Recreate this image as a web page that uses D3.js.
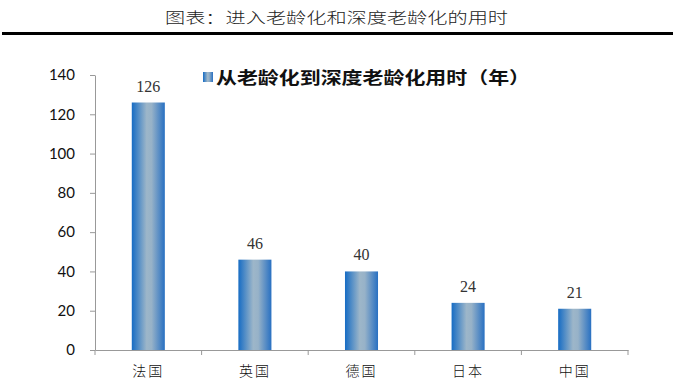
<!DOCTYPE html>
<html>
<head>
<meta charset="utf-8">
<script src="https://cdn.jsdelivr.net/npm/d3@7"></script>
<style>
  body { margin: 0; background: #fff; }
  svg { display: block; }
</style>
</head>
<body>
<script>
const countries = ['法国', '英国', '德国', '日本', '中国'];
const years = [126, 46, 40, 24, 21];
const yTicks = [0, 20, 40, 60, 80, 100, 120, 140];
const chartTitle = '图表：进入老龄化和深度老龄化的用时';
const seriesName = '从老龄化到深度老龄化用时（年）';

const width = 674;
const height = 387;
const margin = { left: 95, right: 46, top: 75, bottom: 37 };

const svg = d3.select('body')
  .append('svg')
  .attr('width', width)
  .attr('height', height);

// gradient for bars
const grad = svg.append('defs')
  .append('linearGradient')
  .attr('id', 'barGrad')
  .attr('x1', '0%').attr('x2', '100%')
  .attr('y1', '0%').attr('y2', '0%');
grad.append('stop').attr('offset', '0%').attr('stop-color', '#166cc4');
grad.append('stop').attr('offset', '45%').attr('stop-color', '#9db6c9');
grad.append('stop').attr('offset', '60%').attr('stop-color', '#97b2c8');
grad.append('stop').attr('offset', '100%').attr('stop-color', '#2870c2');

// header
svg.append('text')
  .attr('x', 165)
  .attr('y', 23)
  .attr('textLength', 343)
  .attr('lengthAdjust', 'spacingAndGlyphs')
  .style('font-family', '"Noto Sans CJK SC", sans-serif')
  .style('font-size', '15px')
  .style('font-weight', 300)
  .attr('fill', '#222')
  .text(chartTitle);

svg.append('rect')
  .attr('x', 2)
  .attr('y', 32)
  .attr('width', 671)
  .attr('height', 3)
  .attr('fill', '#000');

const x = d3.scaleBand()
  .domain(countries)
  .range([margin.left, width - margin.right])
  .paddingInner(0.69)
  .paddingOuter(0.345);

const y = d3.scaleLinear()
  .domain([0, 140])
  .range([height - margin.bottom, margin.top]);

// y axis
const yAxis = svg.append('g')
  .attr('transform', `translate(${margin.left},0)`)
  .call(d3.axisLeft(y).tickValues(yTicks).tickSize(5).tickSizeOuter(0));
yAxis.select('.domain').attr('stroke', '#999');
yAxis.selectAll('.tick line').attr('stroke', '#999');
yAxis.selectAll('.tick text')
  .attr('x', -20)
  .style('font-family', 'Lato, "Open Sans", sans-serif')
  .style('font-size', '15px')
  .attr('fill', '#111');

// x axis
const xAxis = svg.append('g')
  .attr('transform', `translate(0,${y(0)})`)
  .call(d3.axisBottom(x).tickSize(0).tickSizeOuter(0));
xAxis.select('.domain').attr('stroke', '#999');
xAxis.selectAll('.tick text')
  .attr('y', 16)
  .style('font-family', '"Noto Sans CJK SC", sans-serif')
  .style('font-size', '14px')
  .style('font-weight', 300)
  .attr('letter-spacing', '2px')
  .attr('fill', '#111');

// category boundary ticks
const step = x.step();
const bounds = d3.range(countries.length + 1).map(i => margin.left + i * step);
svg.append('g')
  .selectAll('line')
  .data(bounds)
  .join('line')
  .attr('x1', d => d)
  .attr('x2', d => d)
  .attr('y1', y(0))
  .attr('y2', y(0) + 5)
  .attr('stroke', '#999');

// bars
svg.append('g')
  .selectAll('rect')
  .data(years)
  .join('rect')
  .attr('x', (d, i) => x(countries[i]))
  .attr('y', d => y(d))
  .attr('width', x.bandwidth())
  .attr('height', d => y(0) - y(d))
  .attr('fill', 'url(#barGrad)');

// value labels
svg.append('g')
  .selectAll('text')
  .data(years)
  .join('text')
  .attr('x', (d, i) => x(countries[i]) + x.bandwidth() / 2)
  .attr('y', d => y(d) - 11)
  .attr('text-anchor', 'middle')
  .style('font-family', '"Liberation Serif", serif')
  .style('font-size', '16px')
  .attr('fill', '#333')
  .text(d => d);

// legend
svg.append('rect')
  .attr('x', 203)
  .attr('y', 72)
  .attr('width', 10)
  .attr('height', 10)
  .attr('fill', 'url(#barGrad)');

svg.append('text')
  .attr('x', 216)
  .attr('y', 84)
  .attr('textLength', 314)
  .attr('lengthAdjust', 'spacingAndGlyphs')
  .style('font-family', '"Noto Sans CJK SC", sans-serif')
  .style('font-size', '17px')
  .style('font-weight', 700)
  .attr('fill', '#111')
  .text(seriesName);
</script>
</body>
</html>
